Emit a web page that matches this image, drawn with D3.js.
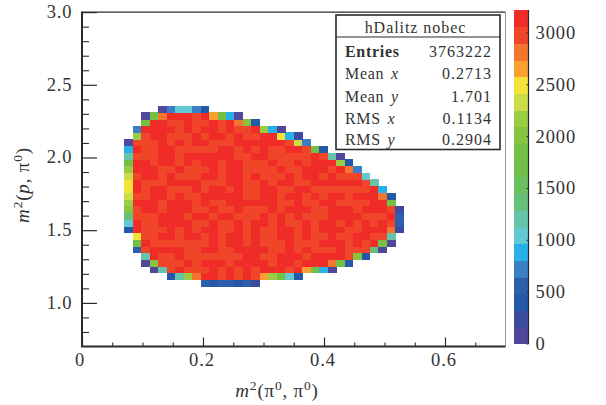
<!DOCTYPE html>
<html><head><meta charset="utf-8">
<script src="https://cdn.jsdelivr.net/npm/d3@7/dist/d3.min.js"></script>
<style>
html,body{margin:0;padding:0;background:#fff}
svg{display:block}
text{font-family:"Liberation Serif",serif;fill:#333}
</style></head><body><svg id="c" width="606" height="405"></svg>
<script>
const R=3140,O=2975;
// bin layout of the histogram
const nBins=50, xRange=[0,0.7], yRange=[0.7,3.0];
// first filled x bin of each y bin
const rowStart={35:9,34:7,33:7,32:6,31:6,30:5,29:5,28:5,27:5,26:5,25:5,24:5,23:5,22:5,21:5,20:5,19:5,18:5,17:5,16:6,15:6,14:6,13:7,12:7,11:8,10:10,9:14};
// bin contents, per y bin
const rows={
35:[80,720,1045,1045,720,400],
34:[80,1850,2815,R,R,R,O,R,2655,1850,885,80],
33:[1850,R,R,O,O,R,O,O,R,O,R,2815,2010,400],
32:[720,R,R,R,R,O,R,O,R,R,O,R,O,O,R,2175,885,80],
31:[2175,O,R,R,O,O,O,R,O,R,R,O,R,O,O,R,R,2495,885,240],
30:[80,O,O,O,R,O,R,O,R,R,O,O,O,R,R,R,R,R,R,O,2335,720],
29:[885,R,O,O,R,R,O,O,O,O,O,R,R,O,R,O,R,O,O,R,R,O,1850,400],
28:[1205,O,O,O,R,R,O,R,R,R,R,R,R,O,O,R,R,O,O,O,O,O,R,O,1205,80],
27:[1850,R,R,O,R,R,O,R,O,R,R,O,R,R,O,O,O,R,O,O,R,O,R,R,R,2175,400],
26:[2175,R,R,R,O,O,R,O,O,O,R,O,R,R,O,O,O,O,R,O,O,R,R,R,O,R,2815,720],
25:[2335,O,R,R,O,R,O,O,O,R,R,O,R,R,O,R,O,O,O,R,O,R,R,O,R,O,O,O,1045],
24:[2495,R,O,O,O,R,R,R,R,O,O,O,R,R,O,O,R,O,R,R,O,O,R,R,R,R,R,R,O,1205],
23:[2495,R,O,R,R,O,O,O,R,O,R,R,O,R,O,O,R,R,O,O,R,R,O,O,O,O,O,O,O,R,885],
22:[2335,O,O,R,R,O,R,O,O,R,R,R,R,R,O,O,R,R,O,R,R,O,R,O,R,R,O,R,R,R,2815,400],
21:[2175,R,R,R,O,R,R,R,O,R,O,O,R,R,R,R,R,R,O,O,R,O,O,R,R,O,O,O,O,R,R,1850],
20:[2010,O,R,R,O,R,R,R,O,O,R,O,O,R,O,O,O,R,O,R,R,R,O,O,R,R,R,O,R,R,R,O,240],
19:[1370,O,O,O,R,R,R,O,R,R,O,R,R,O,O,O,R,O,R,O,R,O,O,O,R,R,R,R,O,O,O,R,560],
18:[1045,R,O,O,R,R,R,R,O,O,R,O,O,R,O,R,R,O,R,O,O,R,O,R,R,O,R,O,R,O,R,O,560],
17:[400,R,O,O,O,R,O,R,O,R,R,O,O,R,O,R,O,O,R,R,O,R,O,R,R,R,O,O,R,R,R,2815,240],
16:[2495,O,O,R,R,O,R,R,O,R,O,R,R,O,R,O,O,R,R,O,R,O,O,R,O,O,R,R,O,O,1205],
15:[1850,R,O,O,O,O,O,O,O,R,O,R,R,O,R,O,O,O,R,O,O,O,R,R,R,O,R,O,R,1850,80],
14:[560,O,R,R,R,R,O,O,R,R,O,O,R,R,R,R,O,O,R,O,R,O,O,O,R,O,O,O,1370,80],
13:[1205,R,O,O,R,O,O,O,O,O,O,O,R,R,O,O,R,R,R,O,R,R,R,R,O,2010,400],
12:[80,2010,O,O,O,R,O,R,R,R,O,R,R,R,R,O,R,R,O,R,R,R,2815,1850,400],
11:[80,1205,O,R,O,O,O,R,O,R,O,R,O,R,R,R,O,R,2655,1850,885,80],
10:[400,1205,2175,2815,R,R,O,R,O,R,O,2655,2175,1850,1045,400],
9:[560,400,560,560,400,560,240]
};
// colour bar
const zMax=3221;
const palette=["#51479b","#3b4c9e","#2359a8","#2d60ac","#3a80c6","#27b1e8","#62c9d2","#66c4a9","#66c07a","#6cbf5f","#70bf48","#72c044","#85c440","#9ccb44","#ccdb48","#f2e23a","#f9a030","#f4752e","#f04528","#ef2c28"];
const xMajor=[0,0.2,0.4,0.6], xLabels=["0","0.2","0.4","0.6"];
const xMinor=[0.05,0.1,0.15,0.25,0.3,0.35,0.45,0.5,0.55,0.65];
const yMajor=[1.0,1.5,2.0,2.5,3.0], yLabels=["1.0","1.5","2.0","2.5","3.0"];
const yMinor=[0.8,0.9,1.1,1.2,1.3,1.4,1.6,1.7,1.8,1.9,2.1,2.2,2.3,2.4,2.6,2.7,2.8,2.9];
const zTicks=[0,500,1000,1500,2000,2500,3000];
const statsTitle="hDalitz nobec";
const statNames=[["Entries"],["Mean ","x"],["Mean ","y"],["RMS ","x"],["RMS ","y"]];
const statValues=["3763222","0.2713","1.701","0.1134","0.2904"];

const svg=d3.select("#c");
const x=d3.scaleLinear().domain(xRange).range([82,505.5]);
const y=d3.scaleLinear().domain(yRange).range([346.5,12.1]);
const z=d3.scaleLinear().domain([0,zMax]).range([344,10]);
const col=d3.scaleQuantize().domain([0,zMax]).range(palette);
const bx=i=>xRange[0]+(xRange[1]-xRange[0])*i/nBins;
const by=j=>yRange[0]+(yRange[1]-yRange[0])*j/nBins;

// cells
const cells=[];
Object.keys(rows).forEach(j=>rows[j].forEach((v,k)=>cells.push({i:rowStart[j]+k,j:+j,v})));
svg.append("g").attr("shape-rendering","crispEdges").selectAll("rect").data(cells).join("rect")
 .attr("x",d=>x(bx(d.i))).attr("width",d=>x(bx(d.i+1))-x(bx(d.i))+0.4)
 .attr("y",d=>y(by(d.j+1))).attr("height",d=>y(by(d.j))-y(by(d.j+1))+0.4)
 .attr("fill",d=>col(d.v));

// frame
const ink="#2b2b2b";
svg.append("path").attr("d",`M${x(0.7)},${y(3)}V${y(0.7)}`).attr("stroke","#999").attr("stroke-width",1).attr("fill","none");
svg.append("path").attr("d",`M${x(0)},${y(3)}H${x(0.7)}`).attr("stroke",ink).attr("stroke-width",1.2).attr("fill","none");

function styleAxis(g,w){g.select(".domain").remove();g.selectAll("line").attr("stroke",ink).attr("stroke-width",w);}
styleAxis(svg.append("g").attr("transform",`translate(${x(0)},0)`).call(d3.axisRight(y).tickValues(yMinor).tickSize(7).tickFormat("")),1.1);
styleAxis(svg.append("g").attr("transform",`translate(${x(0)},0)`).call(d3.axisRight(y).tickValues(yMajor).tickSize(15).tickFormat("")),1.2);
styleAxis(svg.append("g").attr("transform",`translate(0,${y(0.7)})`).call(d3.axisTop(x).tickValues(xMinor).tickSize(4).tickFormat("")),1.1);
styleAxis(svg.append("g").attr("transform",`translate(0,${y(0.7)})`).call(d3.axisTop(x).tickValues(xMajor).tickSize(9).tickFormat("")),1.2);
svg.append("path").attr("d",`M${x(0)},${y(3)-0.5}V${y(0.7)}H${x(0.7)}`).attr("stroke",ink).attr("stroke-width",2).attr("fill","none");

const label=(sel,size)=>sel.attr("font-size",size).attr("letter-spacing",0.9);
label(svg.append("g").selectAll("text").data(yMajor).join("text").attr("x",72.5).attr("y",d=>y(d)+6).attr("text-anchor","end").text((d,i)=>yLabels[i]),18.5);
label(svg.append("g").selectAll("text").data(xMajor).join("text").attr("x",(d,i)=>x(d)-(i?1:2)).attr("y",365.5).attr("text-anchor","middle").text((d,i)=>xLabels[i]),18.5);

// axis titles
function title(t){
 t.append("tspan").attr("font-style","italic").text("m");
 t.append("tspan").attr("dy",-7).attr("font-size",13.5).text("2");
 t.append("tspan").attr("dy",7).text("(");
 return t;
}
const xt=title(svg.append("text").attr("x",277).attr("y",397).attr("text-anchor","middle").attr("font-size",19).attr("letter-spacing",0.8));
xt.append("tspan").text("π");xt.append("tspan").attr("dy",-7).attr("font-size",13.5).text("0");
xt.append("tspan").attr("dy",7).text(",  π");xt.append("tspan").attr("dy",-7).attr("font-size",13.5).text("0");
xt.append("tspan").attr("dy",7).text(")");
const yt=title(svg.append("text").attr("transform","translate(29,185) rotate(-90)").attr("text-anchor","middle").attr("font-size",19).attr("letter-spacing",0.8));
yt.append("tspan").attr("font-style","italic").text("p");
yt.append("tspan").text(",  π");yt.append("tspan").attr("dy",-7).attr("font-size",13.5).text("0");
yt.append("tspan").attr("dy",7).text(")");

// colour bar
svg.append("g").attr("shape-rendering","crispEdges").selectAll("rect").data(palette).join("rect")
 .attr("x",514).attr("width",14.5)
 .attr("y",(d,i)=>z((i+1)*zMax/palette.length)).attr("height",(344-10)/palette.length+0.4)
 .attr("fill",d=>d);
svg.append("path").attr("d","M528.5,10V344").attr("stroke",ink).attr("stroke-width",1.2);
svg.append("g").selectAll("line").data(zTicks).join("line").attr("x1",526.5).attr("x2",528.5).attr("y1",d=>z(d)).attr("y2",d=>z(d)).attr("stroke",ink);
label(svg.append("g").selectAll("text").data(zTicks).join("text").attr("x",535.5).attr("y",d=>z(d)+6).text(d=>d),18.5);

// stats box
svg.append("rect").attr("x",336).attr("y",15).attr("width",164).attr("height",134.5).attr("fill","#fff").attr("stroke",ink).attr("stroke-width",1.6);
svg.append("line").attr("x1",336).attr("x2",500).attr("y1",37).attr("y2",37).attr("stroke",ink).attr("stroke-width",1.2);
svg.append("text").attr("x",415.5).attr("y",33).attr("text-anchor","middle").attr("font-size",16).attr("letter-spacing",0.95).text(statsTitle);
const statY=[56.5,78.5,101.5,123.5,144.5];
statNames.forEach((n,i)=>{
 const t=svg.append("text").attr("x",345).attr("y",statY[i]).attr("font-size",16).attr("letter-spacing",0.7);
 t.append("tspan").attr("font-weight",i==0?"bold":"normal").text(n[0]);
 if(n[1]) t.append("tspan").attr("font-style","italic").attr("dx",2).text(n[1]);
 svg.append("text").attr("x",492).attr("y",statY[i]).attr("text-anchor","end").attr("font-size",16).attr("letter-spacing",1).text(statValues[i]);
});
</script></body></html>
